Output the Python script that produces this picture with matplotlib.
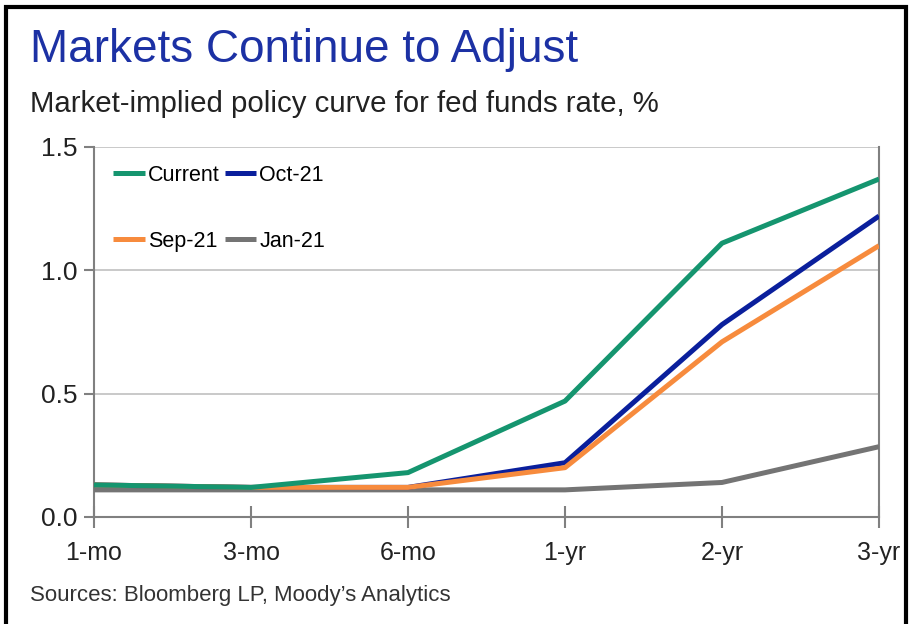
import matplotlib
matplotlib.use("Agg")
import matplotlib.pyplot as plt
from matplotlib.patches import Rectangle

categories = ["1-mo", "3-mo", "6-mo", "1-yr", "2-yr", "3-yr"]
current = [0.13, 0.12, 0.18, 0.47, 1.11, 1.37]
oct21 = [0.13, 0.12, 0.12, 0.22, 0.78, 1.22]
sep21 = [0.13, 0.12, 0.12, 0.20, 0.71, 1.10]
jan21 = [0.11, 0.11, 0.11, 0.11, 0.14, 0.285]
yticks = [0.0, 0.5, 1.0, 1.5]
ytick_labels = ["0.0", "0.5", "1.0", "1.5"]

plt.rcParams['font.family'] = ['Liberation Sans', 'DejaVu Sans']

W, H = 920, 624
fig = plt.figure(figsize=(W / 100, H / 100), dpi=100)
fig.patch.set_facecolor("white")

ax = fig.add_axes([94 / W, 1 - 517 / H, (879 - 94) / W, (517 - 147) / H])

x = list(range(len(categories)))
lw = 3.6
ax.plot(x, jan21, color="#747474", lw=lw, label="Jan-21", zorder=3, solid_capstyle="butt")
ax.plot(x, oct21, color="#0a1f9c", lw=lw, label="Oct-21", zorder=4, solid_capstyle="butt")
ax.plot(x, sep21, color="#f78b3d", lw=lw, label="Sep-21", zorder=5, solid_capstyle="butt")
ax.plot(x, current, color="#15956f", lw=lw, label="Current", zorder=6, solid_capstyle="butt")

ax.set_xlim(0, len(categories) - 1)
ax.set_ylim(0, 1.5)
ax.set_xticks(x)
ax.set_xticklabels(categories)
ax.set_yticks(yticks)
ax.set_yticklabels(ytick_labels)

for v in yticks[1:]:
    ax.axhline(v, color="#c0c0c0", lw=1.2, zorder=1)
for side in ["left", "bottom", "right"]:
    ax.spines[side].set_color("#808080")
    ax.spines[side].set_linewidth(1.5)
ax.spines["top"].set_visible(False)

ax.tick_params(axis="x", direction="inout", length=16, width=1.5, color="#808080",
               labelsize=18, pad=9, labelcolor="#222222")
ax.tick_params(axis="y", direction="out", length=7, width=1.5, color="#808080",
               labelsize=19, pad=5, labelcolor="#222222")

handles, labels = ax.get_legend_handles_labels()
hmap = dict(zip(labels, handles))
order = ["Current", "Sep-21", "Oct-21", "Jan-21"]
leg = ax.legend([hmap[k] for k in order], order, ncol=2, loc="upper left",
                bbox_to_anchor=(0.0, 1.004), frameon=False, fontsize=15.5,
                handlelength=1.45, handletextpad=0.15, columnspacing=0.25,
                labelspacing=2.08, borderaxespad=0.5)

fig.text(30 / W, 1 - 50 / H, "Markets Continue to Adjust", color="#1c31a4",
         fontsize=33, va="center", ha="left")
fig.text(30 / W, 1 - 104 / H, "Market-implied policy curve for fed funds rate, %",
         color="#222222", fontsize=21.2, va="center", ha="left")
fig.text(30 / W, 1 - 596 / H, "Sources: Bloomberg LP, Moody\u2019s Analytics",
         color="#333333", fontsize=16, va="center", ha="left")

fig.patches.append(Rectangle((6 / W, -0.05), (906 - 6) / W, 1.05 - 7 / H,
                             transform=fig.transFigure, fill=False,
                             edgecolor="black", lw=3))

fig.savefig("out.png", dpi=100)
